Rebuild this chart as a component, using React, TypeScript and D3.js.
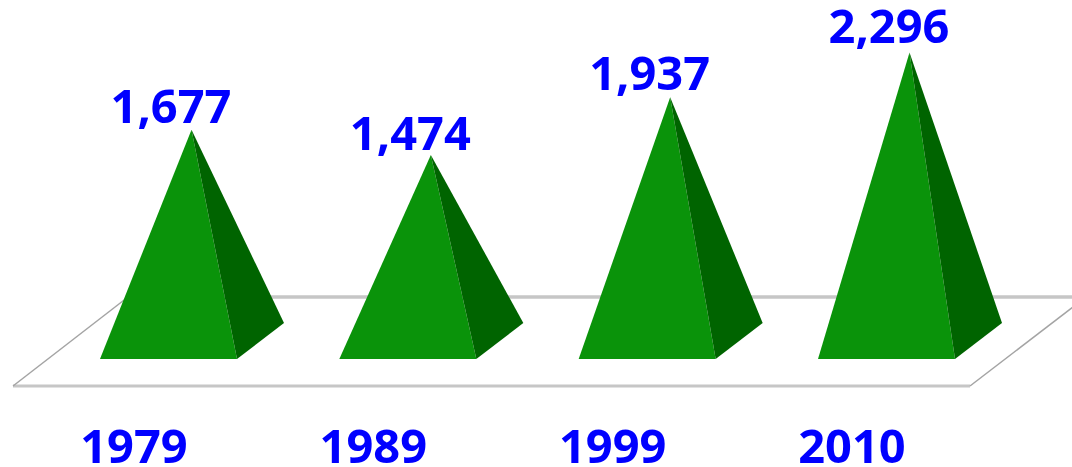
import React from "react";
import * as d3 from "d3";

const years = ["1979", "1989", "1999", "2010"];
const values = [1677, 1474, 1937, 2296];
const labels = ["1,677", "1,474", "1,937", "2,296"];

const W = 1072;
const H = 467;
const baseY = 359;
const backY = 323;
const baseW = 137;
const depthX = 47;
const apexDx = 91.5;

const x = d3.scalePoint<string>().domain(years).range([100, 818]);
const y = d3.scaleLinear().domain([1474, 2296]).range([155, 52.5]);
const labelY = d3.scaleLinear().domain([1474, 2296]).range([149.5, 43]);
const line = d3.line();

const floor: [number, number][] = [[13, 386], [970, 386], [1086, 297], [128, 297]];

const font = "'Noto Sans', 'Open Sans', sans-serif";

export default function App() {
  return (
    <svg width={W} height={H} viewBox={`0 0 ${W} ${H}`} style={{ position: "absolute", left: 0, top: 0, background: "#fff", filter: "blur(0.5px)" }}>
      <path d={line([floor[0], floor[1]]) as string} fill="none" stroke="#c6c6c6" strokeWidth={3} />
      <path d={line([floor[3], floor[2]]) as string} fill="none" stroke="#c6c6c6" strokeWidth={3.5} />
      <path d={line([floor[0], floor[3]]) as string} fill="none" stroke="#a4a4a4" strokeWidth={1.5} />
      <path d={line([floor[1], floor[2]]) as string} fill="none" stroke="#a4a4a4" strokeWidth={1.5} />
      {years.map((yr, i) => {
        const x0 = x(yr) as number;
        const ax = x0 + apexDx;
        const ay = y(values[i]);
        return (
          <g key={yr}>
            <path d={line([[x0, baseY], [x0 + baseW, baseY], [ax, ay]]) + "Z"} fill="#0a930a" />
            <path d={line([[x0 + baseW, baseY], [x0 + baseW + depthX, backY], [ax, ay]]) + "Z"} fill="#006400" />
            <text x={ax - 20.5} y={labelY(values[i])} textAnchor="middle" fontFamily={font} fontWeight={700} fontSize={47} fill="#0000ff">{labels[i]}</text>
            <text x={x0 + 34} y={463} textAnchor="middle" fontFamily={font} fontWeight={700} fontSize={47} fill="#0000ff">{yr}</text>
          </g>
        );
      })}
    </svg>
  );
}
